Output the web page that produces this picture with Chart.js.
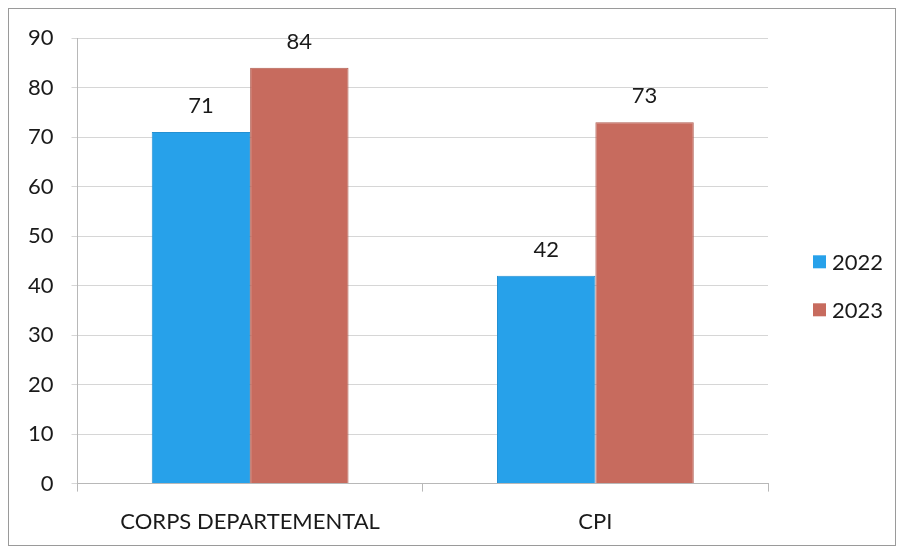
<!DOCTYPE html>
<html>
<head>
<meta charset="utf-8">
<script src="https://cdn.jsdelivr.net/npm/chart.js@4.4.0/dist/chart.umd.min.js"></script>
<style>
    html, body { margin: 0; padding: 0; background: #ffffff; }
    #wrap { position: relative; width: 904px; height: 548px; }
    #frame { position: absolute; left: 8px; top: 8px; width: 886px; height: 536px; border: 1px solid #9a9a9a; pointer-events: none; }
</style>
</head>
<body>
<div id="wrap">
    <canvas id="barChart"></canvas>
    <div id="frame"></div>
</div>
<script>
var categories = ['CORPS DEPARTEMENTAL', 'CPI'];
var values2022 = [71, 42];
var values2023 = [84, 73];
var yTicks = [0, 10, 20, 30, 40, 50, 60, 70, 80, 90];

var fontName = 'Lato, "Open Sans", sans-serif';

// draws the value above every bar
var valueLabels = {
    id: 'valueLabels',
    afterDatasetsDraw: function (chart) {
        var ctx = chart.ctx;
        ctx.save();
        ctx.font = '22px ' + fontName;
        ctx.fillStyle = '#1a1a1a';
        ctx.textAlign = 'center';
        ctx.textBaseline = 'middle';
        chart.data.datasets.forEach(function (ds, i) {
            var meta = chart.getDatasetMeta(i);
            meta.data.forEach(function (bar, j) {
                ctx.fillText(ds.data[j], bar.x, bar.y - 26);
            });
        });
        ctx.restore();
    }
};

// legend on the right, drawn by hand so the spacing matches
var sideLegend = {
    id: 'sideLegend',
    afterDraw: function (chart) {
        var ctx = chart.ctx;
        var area = chart.chartArea;
        var x = area.right + 45;
        var y = (area.top + area.bottom) / 2 + 1;
        ctx.save();
        ctx.font = '22px ' + fontName;
        ctx.textAlign = 'left';
        ctx.textBaseline = 'middle';
        chart.data.datasets.forEach(function (ds, i) {
            var cy = y + i * 48;
            ctx.fillStyle = ds.backgroundColor;
            ctx.fillRect(x, cy - 6.5, 13, 13);
            ctx.fillStyle = '#1a1a1a';
            ctx.fillText(ds.label, x + 19, cy + 1);
        });
        ctx.restore();
    }
};

var ctx = document.getElementById('barChart').getContext('2d');
var barChart = new Chart(ctx, {
    type: 'bar',
    data: {
        labels: categories,
        datasets: [{
            label: '2022',
            data: values2022,
            backgroundColor: '#27a1ea',
            borderColor: '#2490d2',
            borderWidth: 1
        }, {
            label: '2023',
            data: values2023,
            backgroundColor: '#c76b5e',
            borderColor: '#b05d51',
            borderWidth: 1
        }]
    },
    options: {
        responsive: true,
        maintainAspectRatio: false,
        animation: false,
        layout: {
            padding: { top: 38, left: 10, right: 136, bottom: -4 }
        },
        datasets: {
            bar: {
                categoryPercentage: 0.57,
                barPercentage: 1.0
            }
        },
        scales: {
            y: {
                min: 0,
                max: 90,
                afterBuildTicks: function (axis) {
                    axis.ticks = yTicks.map(function (v) { return { value: v }; });
                },
                ticks: {
                    color: '#1a1a1a',
                    font: { family: fontName, size: 22 },
                    padding: 18
                },
                grid: {
                    color: '#d6d6d6',
                    tickLength: 6
                },
                border: {
                    color: '#b8b8b8'
                }
            },
            x: {
                ticks: {
                    color: '#1a1a1a',
                    font: { family: fontName, size: 22 },
                    padding: 17
                },
                grid: {
                    drawOnChartArea: false,
                    color: '#b8b8b8',
                    tickLength: 8
                },
                border: {
                    color: '#b8b8b8'
                }
            }
        },
        plugins: {
            legend: { display: false },
            tooltip: { enabled: false }
        }
    },
    plugins: [valueLabels, sideLegend]
});
</script>
</body>
</html>
